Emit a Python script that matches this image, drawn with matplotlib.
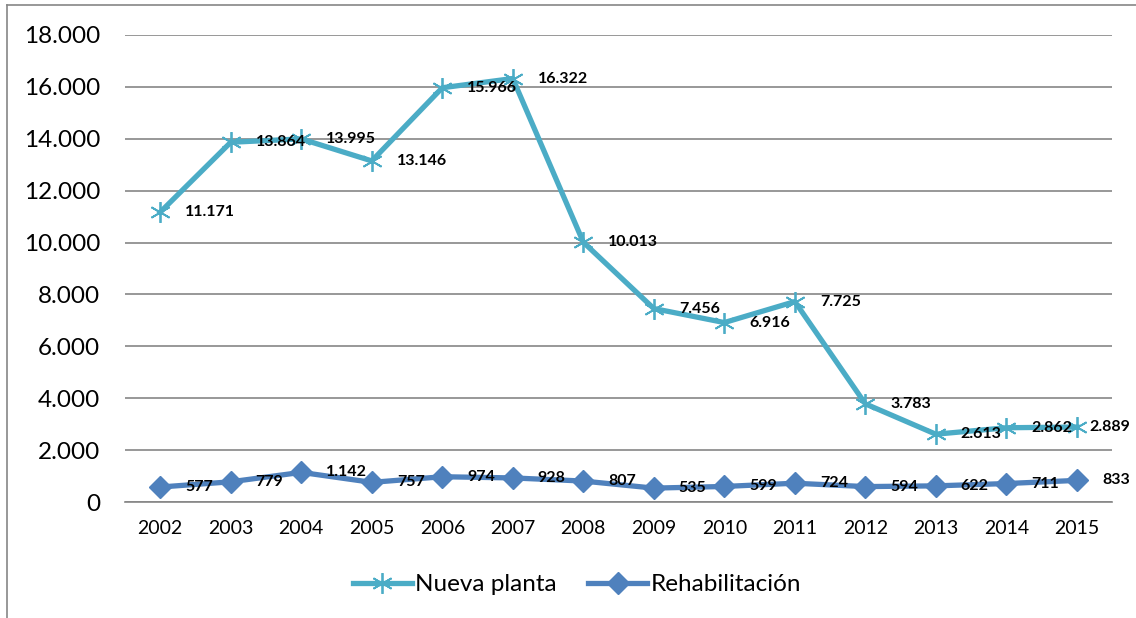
import matplotlib.pyplot as plt
from matplotlib.lines import Line2D
from matplotlib.ticker import FuncFormatter

plt.rcParams['font.family'] = ['Lato', 'DejaVu Sans']

years = [2002, 2003, 2004, 2005, 2006, 2007, 2008, 2009, 2010, 2011, 2012, 2013, 2014, 2015]
nueva_planta = [11171, 13864, 13995, 13146, 15966, 16322, 10013, 7456, 6916, 7725, 3783, 2613, 2862, 2889]
rehabilitacion = [577, 779, 1142, 757, 974, 928, 807, 535, 599, 724, 594, 622, 711, 833]


def miles(v):
    # spanish thousands separator
    return f'{int(round(v)):,}'.replace(',', '.')


fig = plt.figure(figsize=(11.36, 6.18), dpi=100)
ax = fig.add_axes([0.110, 0.1877, 0.869, 0.7557])

# outer chart border (only left and top visible in the crop)
fig.add_artist(Line2D([7 / 1136, 7 / 1136], [0, 1 - 5 / 618], color='#868686', lw=1.2))
fig.add_artist(Line2D([7 / 1136, 1], [1 - 5 / 618, 1 - 5 / 618], color='#868686', lw=1.2))

x = list(range(len(years)))

ax.plot(x, nueva_planta, color='#4BACC6', lw=3.8, marker=(6, 2, 0), markersize=15,
        markeredgewidth=1.3, markeredgecolor='#4BACC6', label='Nueva planta', zorder=3)
ax.plot(x, rehabilitacion, color='#4F81BD', lw=3.8, marker='D', markersize=11,
        markeredgecolor='#4F81BD', label='Rehabilitación', zorder=3)

for xi, v in zip(x, nueva_planta):
    # last label is pushed in to stay inside the chart
    dx = 9 if xi == x[-1] else 18
    ax.annotate(miles(v), (xi, v), xytext=(dx, 0), textcoords='offset points',
                ha='left', va='center', fontsize=11.5, fontweight='bold', zorder=4)
for xi, v in zip(x, rehabilitacion):
    ax.annotate(miles(v), (xi, v), xytext=(18, 0), textcoords='offset points',
                ha='left', va='center', fontsize=11.5, fontweight='bold', zorder=4)

ax.set_xlim(-0.5, len(years) - 0.5)
ax.set_ylim(0, 18000)
ax.set_yticks(range(0, 18001, 2000))
ax.yaxis.set_major_formatter(FuncFormatter(lambda v, p: miles(v)))
ax.set_xticks(x)
ax.set_xticklabels([str(y) for y in years])
ax.tick_params(axis='y', labelsize=17.5, length=0, pad=18)
ax.tick_params(axis='x', labelsize=14, length=0, pad=13)

ax.grid(axis='y', color='#868686', lw=1.2)
ax.set_axisbelow(True)
for s in ['top', 'right', 'left']:
    ax.spines[s].set_visible(False)
ax.spines['bottom'].set_color('#868686')
ax.spines['bottom'].set_linewidth(1.2)

ax.legend(loc='center', bbox_to_anchor=(0.458, -0.177), ncol=2, frameon=False,
          fontsize=17.5, handlelength=2.4, handletextpad=0.15, columnspacing=1.3)

fig.savefig('out.png', dpi=100)
